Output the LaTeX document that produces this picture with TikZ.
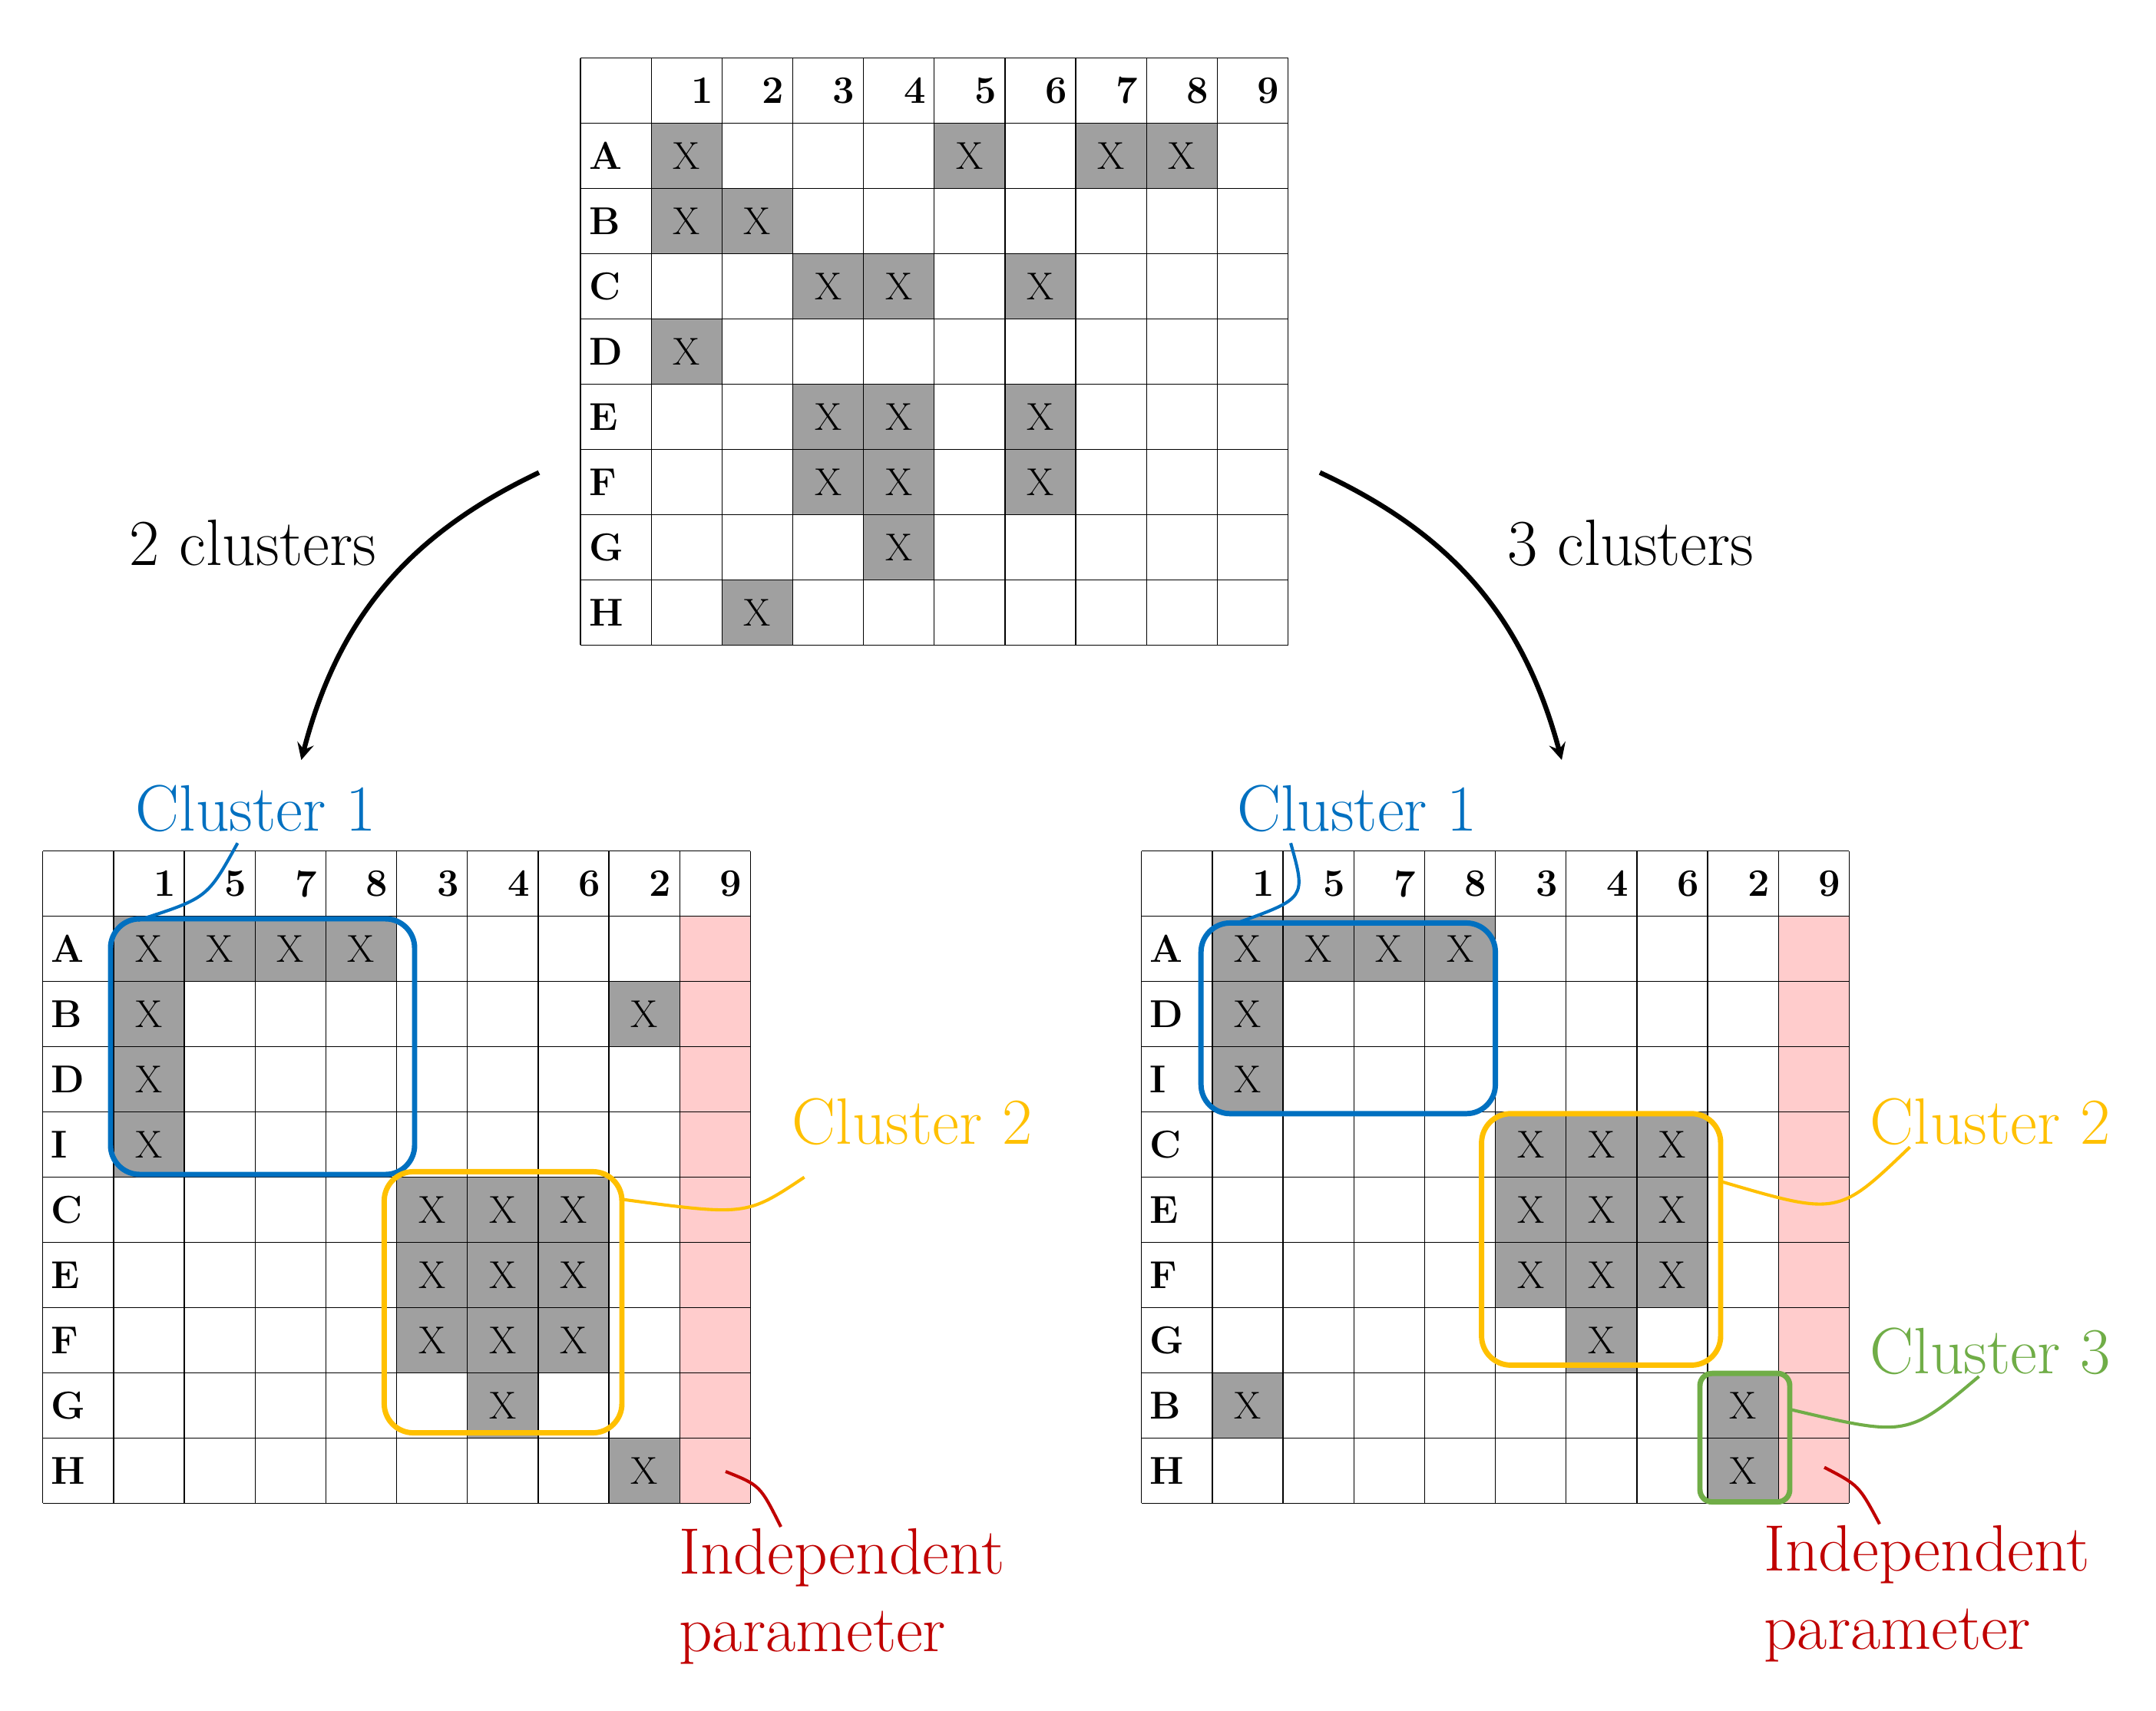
\documentclass[tikz,border=0pt]{standalone}
\usepackage{tikz}
\usetikzlibrary{calc,positioning}
\definecolor{cblue}{RGB}{0,112,192}
\definecolor{cyellow}{RGB}{255,192,0}
\definecolor{cgreen}{RGB}{112,173,71}
\definecolor{cred}{RGB}{192,0,0}
\definecolor{cpink}{RGB}{255,204,204}
\definecolor{cgray}{RGB}{160,160,160}
\tikzset{
  xcell/.style={font=\fontsize{16}{18}\selectfont},
  hdr/.style={font=\bfseries\fontsize{16}{18}\selectfont},
  big/.style={font=\fontsize{27}{32}\selectfont},
  clbox/.style={line width=2.2pt,rounded corners=12}
}
\newcommand\cw{51.2}
\newcommand\rh{47.2}
\begin{document}
\begin{tikzpicture}[x=0.02cm,y=-0.02cm]
\useasboundingbox (0,0) rectangle (1560,1238);

% top matrix
\begin{scope}[shift={(420,42)}]
  \foreach \r/\lab/\xs in {1/A/{1,5,7,8},2/B/{1,2},3/C/{3,4,6},4/D/{1},5/E/{3,4,6},6/F/{3,4,6},7/G/{4},8/H/{2}} {
    \node[hdr,anchor=west] at (0,\r*\rh+0.5*\rh) {\lab};
    \foreach \c in \xs {
      \fill[cgray] (\c*\cw,\r*\rh) rectangle ++(\cw,\rh);
      \node[xcell] at (\c*\cw+0.5*\cw,\r*\rh+0.5*\rh) {X};
    }
  }
  \foreach \c in {1,...,9}
    \node[hdr,anchor=east] at (\c*\cw+\cw,0.5*\rh) {\c};
  \foreach \i in {0,...,10} \draw (\i*\cw,0) -- (\i*\cw,9*\rh);
  \foreach \j in {0,...,9} \draw (0,\j*\rh) -- (10*\cw,\j*\rh);
  \coordinate (tl) at (-30,300);
  \coordinate (tr) at (535,300);
\end{scope}

% left matrix
\begin{scope}[shift={(31,616)}]
  \fill[cpink] (9*\cw,\rh) rectangle (10*\cw,10*\rh);
  \foreach \r/\lab/\xs in {1/A/{1,2,3,4},2/B/{1,8},3/D/{1},4/I/{1},5/C/{5,6,7},6/E/{5,6,7},7/F/{5,6,7},8/G/{6},9/H/{8}} {
    \node[hdr,anchor=west] at (0,\r*\rh+0.5*\rh) {\lab};
    \foreach \c in \xs {
      \fill[cgray] (\c*\cw,\r*\rh) rectangle ++(\cw,\rh);
      \node[xcell] at (\c*\cw+0.5*\cw,\r*\rh+0.5*\rh) {X};
    }
  }
  \foreach \c/\t in {1/1,2/5,3/7,4/8,5/3,6/4,7/6,8/2,9/9}
    \node[hdr,anchor=east] at (\c*\cw+\cw,0.5*\rh) {\t};
  \foreach \i in {0,...,10} \draw (\i*\cw,0) -- (\i*\cw,10*\rh);
  \foreach \j in {0,...,10} \draw (0,\j*\rh) -- (10*\cw,\j*\rh);
\end{scope}

% right matrix
\begin{scope}[shift={(826,616)}]
  \fill[cpink] (9*\cw,\rh) rectangle (10*\cw,10*\rh);
  \foreach \r/\lab/\xs in {1/A/{1,2,3,4},2/D/{1},3/I/{1},4/C/{5,6,7},5/E/{5,6,7},6/F/{5,6,7},7/G/{6},8/B/{1,8},9/H/{8}} {
    \node[hdr,anchor=west] at (0,\r*\rh+0.5*\rh) {\lab};
    \foreach \c in \xs {
      \fill[cgray] (\c*\cw,\r*\rh) rectangle ++(\cw,\rh);
      \node[xcell] at (\c*\cw+0.5*\cw,\r*\rh+0.5*\rh) {X};
    }
  }
  \foreach \c/\t in {1/1,2/5,3/7,4/8,5/3,6/4,7/6,8/2,9/9}
    \node[hdr,anchor=east] at (\c*\cw+\cw,0.5*\rh) {\t};
  \foreach \i in {0,...,10} \draw (\i*\cw,0) -- (\i*\cw,10*\rh);
  \foreach \j in {0,...,10} \draw (0,\j*\rh) -- (10*\cw,\j*\rh);
\end{scope}

% arrows
\node[big] (two) at (183,393) {2 clusters};
\node[big] (three) at (1180,393) {3 clusters};
\coordinate (la) at (218,550);
\coordinate (ra) at (1130,550);
\draw[line width=2pt,-stealth] (tl) to[bend right=25] (la);
\draw[line width=2pt,-stealth] (tr) to[bend left=25] (ra);

% cluster boxes, left
\draw[clbox,cblue] (80,665) rectangle (300,850);
\draw[clbox,cyellow] (278,848) rectangle (450,1037);
\node[big,cblue] (lc1) at (185,585) {Cluster 1};
\node[big,cyellow] (lc2) at (660,812) {Cluster 2};
\node[big,cred,align=left,anchor=north west] (lip) at (485,1100) {Independent\\parameter};
\draw[cblue,line width=1.3pt] (lc1.south west) ++(80,2) coordinate (p1) (p1) .. controls (150,650) .. (100,666);
\draw[cyellow,line width=1.3pt] (582,852) coordinate (p2) .. controls (540,880) .. (450,868);
\draw[cred,line width=1.3pt] (lip.north west) ++(80,5) coordinate (p3) (p3) .. controls (550,1075) .. (525,1065);

% cluster boxes, right
\draw[clbox,cblue] (869,668) rectangle (1082,806);
\draw[clbox,cyellow] (1072,806) rectangle (1245,988);
\draw[clbox,cgreen,rounded corners=5] (1230,994) rectangle (1295,1087);
\node[big,cblue] (rc1) at (982,585) {Cluster 1};
\node[big,cyellow] (rc2) at (1440,812) {Cluster 2};
\node[big,cgreen] (rc3) at (1440,978) {Cluster 3};
\node[big,cred,align=left,anchor=north west] (rip) at (1270,1098) {Independent\\parameter};
\draw[cblue,line width=1.3pt] (rc1.south west) ++(45,2) coordinate (q1) (q1) .. controls (945,650) .. (895,668);
\draw[cyellow,line width=1.3pt] (rc2.south west) ++(35,-5) coordinate (q2) (q2) .. controls (1330,880) .. (1245,855);
\draw[cgreen,line width=1.3pt] (rc3.south west) ++(85,-5) coordinate (q3) (q3) .. controls (1380,1040) .. (1295,1020);
\draw[cred,line width=1.3pt] (rip.north west) ++(90,5) coordinate (q4) (q4) .. controls (1345,1075) .. (1320,1062);
\end{tikzpicture}
\end{document}
